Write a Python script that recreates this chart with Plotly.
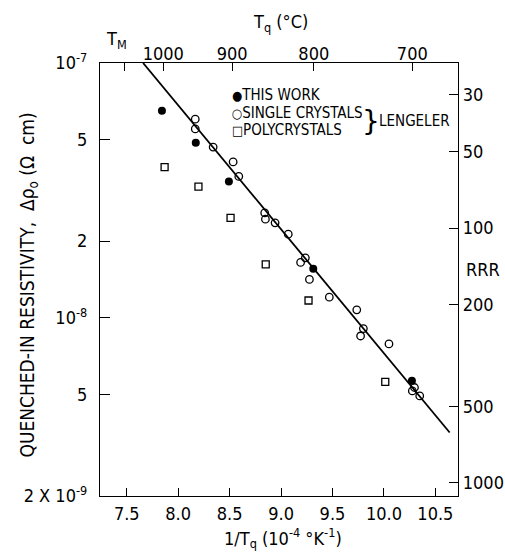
import numpy as np
import plotly.graph_objects as go

# ---- data ----
# x: 1/Tq in 1e-4 K^-1, y: quenched-in resistivity (ohm cm)
this_work_x = [7.842, 8.171, 8.493, 9.313, 10.272]
this_work_y = [6.49e-8, 4.86e-8, 3.43e-8, 1.56e-8, 5.66e-9]

single_x = [8.166, 8.166, 8.340, 8.534, 8.589, 8.841, 8.848, 8.942, 9.070, 9.236,
            9.190, 9.276, 9.469, 9.736, 9.800, 9.773, 10.049, 10.297, 10.276, 10.348]
single_y = [6.02e-8, 5.51e-8, 4.68e-8, 4.09e-8, 3.59e-8, 2.58e-8, 2.44e-8, 2.36e-8, 2.13e-8, 1.72e-8,
            1.65e-8, 1.415e-8, 1.205e-8, 1.075e-8, 9.08e-9, 8.49e-9, 7.9e-9, 5.33e-9, 5.17e-9, 4.94e-9]

poly_x = [7.868, 8.197, 8.509, 8.851, 9.267, 10.013]
poly_y = [3.90e-8, 3.27e-8, 2.47e-8, 1.62e-8, 1.17e-8, 5.61e-9]

fit_x = [7.659, 10.639]
fit_y = [1.0e-7, 3.55e-9]

# axis ticks
x_ticks = [7.5, 8.0, 8.5, 9.0, 9.5, 10.0, 10.5]
x_ticktext = ["7.5", "8.0", "8.5", "9.0", "9.5", "10.0", "10.5"]
y_ticks = [1e-7, 5e-8, 2e-8, 1e-8, 5e-9, 2e-9]
y_ticktext = ["10<sup>-7</sup>", "5", "2", "10<sup>-8</sup>", "5", "2 X 10<sup>-9</sup>"]
top_temps_C = [1064, 1000, 900, 800, 700]   # T_M (gold) and quench temperatures
top_ticktext = [" ", "1000", "900", "800", "700"]
rrr_values = [30, 50, 100, 200, 500, 1000]
rrr_ticktext = ["30", "50", "100", "200", "500", "1000"]
RRR_CONST = 2.25e-6  # delta-rho * RRR

top_tickvals = [1e4 / (t + 273.15) for t in top_temps_C]
rrr_tickvals = [RRR_CONST / r for r in rrr_values]

FONT = "DejaVu Sans Condensed, Liberation Sans Narrow, DejaVu Sans, sans-serif"
XR = [7.24, 10.72]
YR = [np.log10(2e-9), -7]

fig = go.Figure()
fig.add_trace(go.Scatter(x=fit_x, y=fit_y, mode="lines",
                         line=dict(color="black", width=1.8), showlegend=False))
fig.add_trace(go.Scatter(x=single_x, y=single_y, mode="markers",
                         marker=dict(symbol="circle-open", size=7.5, color="black",
                                     line=dict(width=1.3, color="black")),
                         showlegend=False))
fig.add_trace(go.Scatter(x=poly_x, y=poly_y, mode="markers",
                         marker=dict(symbol="square-open", size=7, color="black",
                                     line=dict(width=1.3, color="black")),
                         showlegend=False))
fig.add_trace(go.Scatter(x=this_work_x, y=this_work_y, mode="markers",
                         marker=dict(symbol="circle", size=8, color="black"),
                         showlegend=False))
# invisible trace to anchor the secondary axes
fig.add_trace(go.Scatter(x=fit_x, y=fit_y, xaxis="x2", yaxis="y2", mode="lines",
                         line=dict(width=0), opacity=0, showlegend=False, hoverinfo="skip"))

axis_common = dict(showgrid=False, zeroline=False, showline=True, linecolor="black",
                   linewidth=1.3, ticks="inside", tickcolor="black", tickwidth=1.2,
                   automargin=False,
                   tickfont=dict(family=FONT, size=18, color="black"))

fig.update_layout(
    width=505, height=554,
    margin=dict(l=100, r=47, t=63, b=58, autoexpand=False),
    paper_bgcolor="white", plot_bgcolor="white",
    font=dict(family=FONT, color="black"),
    xaxis=dict(range=XR, tickvals=x_ticks, ticktext=x_ticktext, ticklen=8,
               ticklabelstandoff=1, **axis_common),
    xaxis2=dict(range=XR, overlaying="x", side="top", anchor="y",
                tickvals=top_tickvals, ticktext=top_ticktext, ticklen=8,
                ticklabelstandoff=-5, **axis_common),
    yaxis=dict(type="log", range=YR, tickvals=y_ticks, ticktext=y_ticktext, ticklen=10,
               ticklabelstandoff=8, **axis_common),
    yaxis2=dict(type="log", range=YR, overlaying="y", side="right", anchor="x",
                tickvals=rrr_tickvals, ticktext=rrr_ticktext, ticklen=9, **axis_common),
)

ann_font = dict(family=FONT, size=18, color="black")
leg_font = dict(family=FONT, size=15, color="black")
annotations = [
    dict(text="1/T<sub>q</sub> (10<sup>-4</sup> °K<sup>-1</sup>)", x=0.51, y=-0.098,
         xref="paper", yref="paper", xanchor="center", yanchor="middle", showarrow=False, font=ann_font),
    dict(text="T<sub>q</sub> (°C)", x=0.503, y=1.092,
         xref="paper", yref="paper", xanchor="center", yanchor="middle", showarrow=False, font=ann_font),
    dict(text="QUENCHED-IN RESISTIVITY,  Δρ<sub>o</sub> (Ω  cm)", x=-0.20, y=0.487, textangle=-90,
         xref="paper", yref="paper", xanchor="center", yanchor="middle", showarrow=False,
         font=dict(family=FONT, size=19, color="black")),
    dict(text="RRR", x=1.07, y=0.522,
         xref="paper", yref="paper", xanchor="center", yanchor="middle", showarrow=False, font=ann_font),
    dict(text="T<sub>M</sub>", x=0.045, y=1.053,
         xref="paper", yref="paper", xanchor="center", yanchor="middle", showarrow=False, font=ann_font),
    dict(text="<span style='font-size:13px'>●</span>THIS WORK", x=0.363, y=0.925,
         xref="paper", yref="paper", xanchor="left", yanchor="middle", showarrow=False, font=leg_font),
    dict(text="<span style='font-size:13px'>○</span>SINGLE CRYSTALS", x=0.363, y=0.884,
         xref="paper", yref="paper", xanchor="left", yanchor="middle", showarrow=False, font=leg_font),
    dict(text="<span style='font-size:13px'>□</span>POLYCRYSTALS", x=0.363, y=0.845,
         xref="paper", yref="paper", xanchor="left", yanchor="middle", showarrow=False, font=leg_font),
    dict(text="}", x=0.757, y=0.866,
         xref="paper", yref="paper", xanchor="center", yanchor="middle", showarrow=False,
         font=dict(family="DejaVu Sans", size=28, color="black")),
    dict(text="LENGELER", x=0.775, y=0.866,
         xref="paper", yref="paper", xanchor="left", yanchor="middle", showarrow=False,
         font=dict(family=FONT, size=15, color="black")),
]
fig.update_layout(annotations=annotations)

fig.write_html("out.html", config={"displayModeBar": False},
               post_script="document.body.style.margin='0';")
